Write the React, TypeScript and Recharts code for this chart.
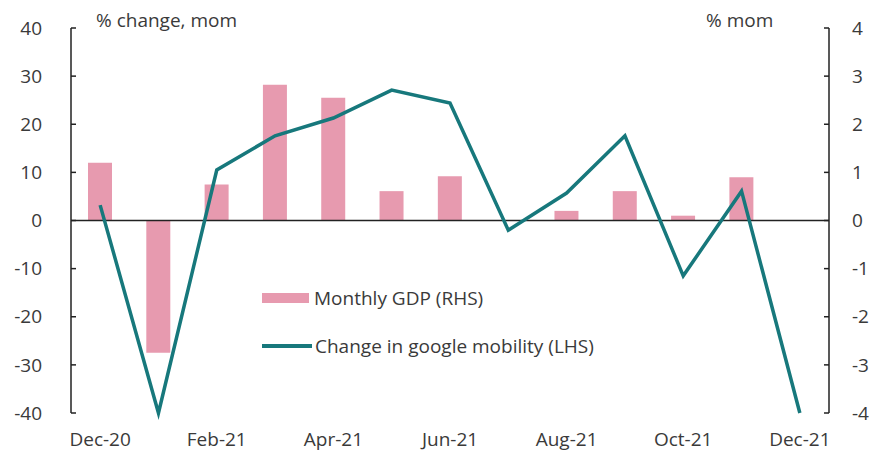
import {
  ComposedChart,
  Bar,
  Line,
  XAxis,
  YAxis,
  ReferenceLine,
  Legend,
} from "recharts"

const months = [
  "Dec-20", "Jan-21", "Feb-21", "Mar-21", "Apr-21", "May-21", "Jun-21",
  "Jul-21", "Aug-21", "Sep-21", "Oct-21", "Nov-21", "Dec-21",
]
// monthly GDP, % mom (right axis)
const gdp = [1.2, -2.75, 0.75, 2.82, 2.55, 0.61, 0.92, 0, 0.2, 0.61, 0.1, 0.9, null]
// google mobility, % change mom (left axis)
const mobility = [3.2, -40, 10.5, 17.6, 21.3, 27.1, 24.4, -2, 5.7, 17.6, -11.5, 6.1, -40]

const leftTicks = [-40, -30, -20, -10, 0, 10, 20, 30, 40]
const rightTicks = [-4, -3, -2, -1, 0, 1, 2, 3, 4]

const data = months.map((m, i) => ({ month: m, gdp: gdp[i], mobility: mobility[i] }))

const FONT = "'Open Sans', sans-serif"
const TEXT = "#3a3a3a"
const PINK = "#E79AAF"
const TEAL = "#17787C"

function ChartLegend() {
  return (
    <div style={{ fontFamily: FONT, fontSize: 19, color: TEXT }}>
      <div style={{ display: "flex", alignItems: "center", height: 26 }}>
        <span style={{ display: "inline-block", width: 47, height: 10, background: PINK, marginRight: 5 }} />
        <span>Monthly GDP (RHS)</span>
      </div>
      <div style={{ display: "flex", alignItems: "center", height: 26, marginTop: 22 }}>
        <span style={{ display: "inline-block", width: 50, height: 4, background: TEAL, marginRight: 3 }} />
        <span>Change in google mobility (LHS)</span>
      </div>
    </div>
  )
}

export default function App() {
  const tickStyle = { fontFamily: FONT, fontSize: 19, fill: TEXT }
  return (
    <div style={{ position: "absolute", left: 0, top: 0, width: 870, height: 456, background: "#fff" }}>
      <ComposedChart
        width={870}
        height={456}
        data={data}
        margin={{ top: 28, right: 0, bottom: 0, left: 0 }}
        barCategoryGap="29%"
      >
        <XAxis
          dataKey="month"
          interval={1}
          axisLine={false}
          tickLine={false}
          tickSize={0}
          tickMargin={20}
          height={43}
          tick={tickStyle}
        />
        <YAxis
          yAxisId="left"
          orientation="left"
          domain={[-40, 40]}
          ticks={leftTicks}
          width={71}
          tickSize={-5}
          tickMargin={34}
          axisLine={{ stroke: "#222", strokeWidth: 1.5 }}
          tickLine={{ stroke: "#222", strokeWidth: 1.5 }}
          tick={tickStyle}
        />
        <YAxis
          yAxisId="right"
          orientation="right"
          domain={[-4, 4]}
          ticks={rightTicks}
          width={41}
          tickSize={-5}
          tickMargin={28}
          axisLine={{ stroke: "#222", strokeWidth: 1.5 }}
          tickLine={{ stroke: "#222", strokeWidth: 1.5 }}
          tick={tickStyle}
        />
        <Bar yAxisId="right" dataKey="gdp" fill={PINK} barSize={24} isAnimationActive={false} />
        <ReferenceLine yAxisId="left" y={0} stroke="#222" strokeWidth={1.5} />
        <Line
          yAxisId="left"
          dataKey="mobility"
          type="linear"
          stroke={TEAL}
          strokeWidth={3.5}
          dot={false}
          isAnimationActive={false}
        />
        <Legend
          layout="vertical"
          align="center"
          verticalAlign="middle"
          content={() => <ChartLegend />}
          wrapperStyle={{ left: 262, top: 285, width: 360 }}
        />
      </ComposedChart>
      <div
        style={{
          position: "absolute", left: 96, top: 8, fontFamily: FONT, fontSize: 19,
          color: TEXT, lineHeight: "24px", whiteSpace: "nowrap",
        }}
      >
        % change, mom
      </div>
      <div
        style={{
          position: "absolute", left: 706, top: 8, fontFamily: FONT, fontSize: 19,
          color: TEXT, lineHeight: "24px", whiteSpace: "nowrap",
        }}
      >
        % mom
      </div>
    </div>
  )
}
